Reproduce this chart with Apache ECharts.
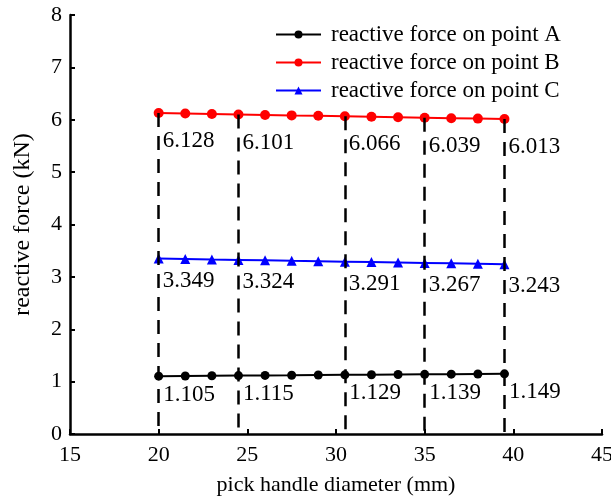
<!DOCTYPE html>
<html>
<head>
<meta charset="utf-8">
<script src="https://cdn.jsdelivr.net/npm/echarts@6/dist/echarts.min.js"></script>
<style>
  html, body { margin: 0; padding: 0; background: #fff; }
  #chart { width: 611px; height: 496px; }
</style>
</head>
<body>
<div id="chart"></div>
<script>
// pick handle diameter (mm)
const diameters = [20, 21.5, 23, 24.5, 26, 27.5, 29, 30.5, 32, 33.5, 35, 36.5, 38, 39.5]
// reactive force (kN) on each point
const forceA = [1.105, 1.108, 1.112, 1.115, 1.119, 1.122, 1.126, 1.129, 1.132, 1.136, 1.139, 1.142, 1.146, 1.149]
const forceB = [6.128, 6.119, 6.110, 6.101, 6.092, 6.083, 6.075, 6.066, 6.057, 6.048, 6.039, 6.030, 6.022, 6.013]
const forceC = [3.349, 3.341, 3.332, 3.324, 3.316, 3.307, 3.299, 3.291, 3.283, 3.275, 3.267, 3.259, 3.251, 3.243]
// points that carry a value label and a dashed drop line
const labeledIdx = [0, 3, 7, 10, 13]
const seriesNames = ['reactive force on point A', 'reactive force on point B', 'reactive force on point C']
const xTicks = { min: 15, max: 45, step: 5 }
const yTicks = { min: 0, max: 8, step: 1 }

const font = "'Liberation Serif', 'Times New Roman', serif"

const buildData = (values, labelDy) =>
    values.map((v, i) => {
        const item = { value: [diameters[i], v] }
        if (labeledIdx.includes(i)) {
            item.label = {
                show: true,
                position: [9, labelDy],
                align: 'left',
                verticalAlign: 'middle',
                formatter: v.toFixed(3),
                fontFamily: font,
                fontSize: 23,
                color: '#000'
            }
        }
        return item
    })

// dashed drops from the B curve down to the x axis
const dropLines = labeledIdx.map(i => [
    { coord: [diameters[i], forceB[i]] },
    { coord: [diameters[i], 0] }
])

const chart = echarts.init(document.getElementById('chart'))

const option = {
    animation: false,
    backgroundColor: '#fff',
    grid: { left: 70, right: 9, top: 15, bottom: 62, outerBoundsMode: 'none' },
    legend: {
        orient: 'vertical',
        left: 270,
        top: 18,
        itemWidth: 45,
        itemHeight: 10,
        itemGap: 5,
        data: seriesNames,
        textStyle: { fontFamily: font, fontSize: 23, color: '#000', padding: [0, 0, 0, 5] }
    },
    xAxis: {
        type: 'value',
        min: xTicks.min,
        max: xTicks.max,
        interval: xTicks.step,
        name: 'pick handle diameter (mm)',
        nameLocation: 'middle',
        nameGap: 40,
        nameTextStyle: { fontFamily: font, fontSize: 22, color: '#000' },
        axisLine: { lineStyle: { color: '#000', width: 2.5 } },
        axisTick: { inside: true, length: 5, lineStyle: { color: '#000', width: 2 } },
        axisLabel: { fontFamily: font, fontSize: 22, color: '#000', margin: 10 },
        splitLine: { show: false }
    },
    yAxis: {
        type: 'value',
        min: yTicks.min,
        max: yTicks.max,
        interval: yTicks.step,
        name: 'reactive force (kN)',
        nameLocation: 'middle',
        nameGap: 35,
        nameTextStyle: { fontFamily: font, fontSize: 24, color: '#000' },
        axisLine: { show: true, lineStyle: { color: '#000', width: 2.5 } },
        axisTick: { show: true, inside: true, length: 5, lineStyle: { color: '#000', width: 2 } },
        axisLabel: { fontFamily: font, fontSize: 22, color: '#000', margin: 8 },
        splitLine: { show: false }
    },
    series: [
        {
            name: seriesNames[0],
            type: 'line',
            symbol: 'circle',
            symbolSize: 9,
            itemStyle: { color: '#000' },
            lineStyle: { color: '#000', width: 2 },
            data: buildData(forceA, 23)
        },
        {
            name: seriesNames[1],
            type: 'line',
            symbol: 'circle',
            symbolSize: 10,
            itemStyle: { color: '#ff0000' },
            lineStyle: { color: '#ff0000', width: 2 },
            data: buildData(forceB, 33),
            markLine: {
                silent: true,
                symbol: 'none',
                label: { show: false },
                lineStyle: { color: '#000', width: 2.5, type: [14, 9] },
                data: dropLines
            }
        },
        {
            name: seriesNames[2],
            type: 'line',
            symbol: 'triangle',
            symbolSize: 10,
            itemStyle: { color: '#0000ff' },
            lineStyle: { color: '#0000ff', width: 2 },
            data: buildData(forceC, 27)
        }
    ]
}

chart.setOption(option)
</script>
</body>
</html>
